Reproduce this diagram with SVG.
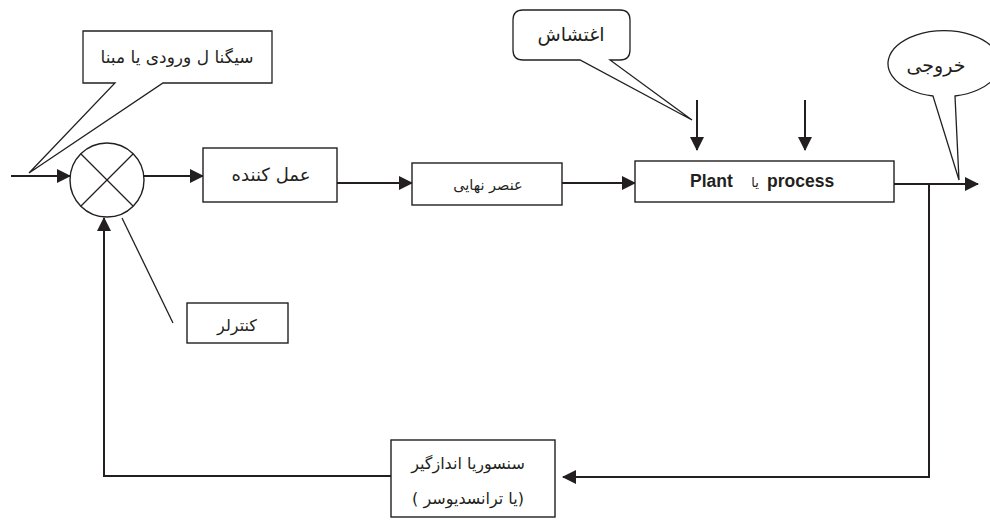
<svg xmlns="http://www.w3.org/2000/svg" width="990" height="521" viewBox="0 0 990 521">
  <defs>
    <marker id="arrow" markerUnits="userSpaceOnUse" markerWidth="14" markerHeight="14" refX="13" refY="7" orient="auto">
      <path d="M0,0 L14,7 L0,14 Z" fill="#231f20"/>
    </marker>
    <style>
      .box { fill: #fff; stroke: #231f20; stroke-width: 1.4; }
      .call { fill: #fff; stroke: #231f20; stroke-width: 1.3; stroke-linejoin: miter; }
      .wire { fill: none; stroke: #231f20; stroke-width: 2; }
      .thin { fill: none; stroke: #231f20; stroke-width: 1.3; }
      .fa { font-family: "DejaVu Sans", "Noto Sans", sans-serif; fill: #231f20; direction: rtl; unicode-bidi: embed; text-anchor: middle; }
      .en { font-family: "Liberation Sans", Arial, sans-serif; font-weight: bold; fill: #231f20; font-size: 17.5px; }
    </style>
  </defs>

  <!-- connectors -->
  <g id="connectors">
    <line class="wire" x1="11" y1="176" x2="70" y2="176" marker-end="url(#arrow)"/>
    <line class="wire" x1="144" y1="176" x2="203" y2="176" marker-end="url(#arrow)"/>
    <line class="wire" x1="337" y1="183" x2="412" y2="183" marker-end="url(#arrow)"/>
    <line class="wire" x1="562" y1="183" x2="635" y2="183" marker-end="url(#arrow)"/>
    <line class="wire" x1="894" y1="184" x2="978" y2="184" marker-end="url(#arrow)"/>
    <polyline class="wire" points="929,184 929,477 563,477" marker-end="url(#arrow)"/>
    <polyline class="wire" points="391,476 104,476 104,218" marker-end="url(#arrow)"/>
    <line class="wire" x1="697" y1="100" x2="697" y2="150" marker-end="url(#arrow)"/>
    <line class="wire" x1="805" y1="100" x2="805" y2="150" marker-end="url(#arrow)"/>
    <line class="thin" x1="122" y1="218" x2="173" y2="323"/>
  </g>

  <!-- summing junction -->
  <g id="junction">
    <circle class="box" cx="107" cy="180" r="37"/>
    <line class="thin" x1="81" y1="154" x2="133" y2="206"/>
    <line class="thin" x1="133" y1="154" x2="81" y2="206"/>
  </g>

  <!-- reference input callout -->
  <g id="input-callout">
    <path class="call" d="M83,31 H272 V83 H163 L29,173 L115,83 H83 Z"/>
    <text class="fa" x="177" y="63" font-size="17">سیگنا ل ورودی یا مبنا</text>
  </g>

  <!-- actuator -->
  <g id="actuator">
    <rect class="box" x="203" y="148" width="134" height="54"/>
    <text class="fa" x="271" y="181" font-size="18">عمل کننده</text>
  </g>

  <!-- final element -->
  <g id="final-element">
    <rect class="box" x="412" y="163" width="150" height="42"/>
    <text class="fa" x="488" y="190" font-size="14.5">عنصر نهایی</text>
  </g>

  <!-- plant -->
  <g id="plant">
    <rect class="box" x="635" y="161" width="259" height="41"/>
    <text class="en" x="690" y="187">Plant</text>
    <text class="fa" x="755" y="187" font-size="13">یا</text>
    <text class="en" x="767" y="187">process</text>
  </g>

  <!-- disturbance callout -->
  <g id="disturbance">
    <path class="call" d="M523,10 H620 Q630,10 630,20 V50 Q630,60 620,60 H610 L692,120 L580,60 H523 Q513,60 513,50 V20 Q513,10 523,10 Z"/>
    <text class="fa" x="571" y="41" font-size="19">اغتشاش</text>
  </g>

  <!-- output callout -->
  <g id="output">
    <path class="call" d="M933,96 A56,33 0 1 1 955,96 L959,180 Z"/>
    <text class="fa" x="936" y="72" font-size="19">خروجی</text>
  </g>

  <!-- controller -->
  <g id="controller">
    <rect class="box" x="187" y="303" width="101" height="40"/>
    <text class="fa" x="237" y="331" font-size="16">کنترلر</text>
  </g>

  <!-- sensor -->
  <g id="sensor">
    <rect class="box" x="391" y="440" width="164" height="77"/>
    <text class="fa" x="468" y="469" font-size="16">سنسوریا اندازگیر</text>
    <text class="fa" x="468" y="504" font-size="16">(یا ترانسدیوسر )</text>
  </g>
</svg>
